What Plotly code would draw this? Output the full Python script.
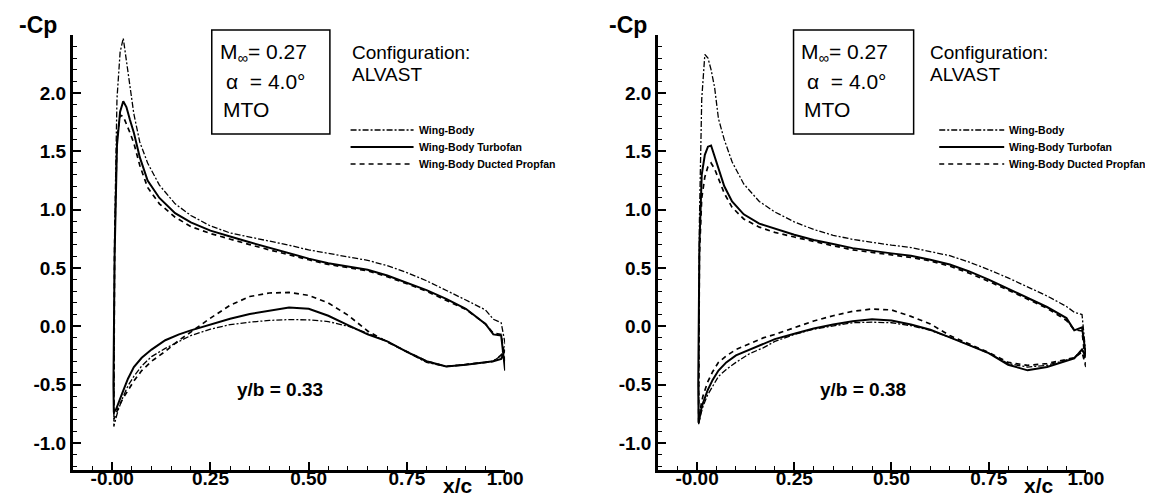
import plotly.graph_objects as go

W, H = 1153, 496

# ---------------- data ----------------
x_upper = [0.003, 0.006, 0.012, 0.02, 0.028, 0.036, 0.045, 0.055, 0.07, 0.09, 0.12, 0.16, 0.2,
           0.25, 0.3, 0.35, 0.4, 0.45, 0.5, 0.55, 0.6, 0.65, 0.7, 0.75, 0.8, 0.85, 0.9, 0.95,
           0.97, 0.99, 1.0]
x_lower = [0.004, 0.01, 0.015, 0.027, 0.04, 0.055, 0.075, 0.1, 0.135, 0.17, 0.2, 0.25, 0.3,
           0.35, 0.4, 0.45, 0.5, 0.55, 0.6, 0.65, 0.7, 0.75, 0.8, 0.85, 0.9, 0.95, 0.97, 0.99, 1.0]

# y/b = 0.33
left_wb_upper = [-0.6, 0.8, 1.95, 2.35, 2.47, 2.28, 2.05, 1.82, 1.58, 1.40, 1.21, 1.05, 0.95,
                 0.86, 0.80, 0.76, 0.73, 0.695, 0.655, 0.62, 0.595, 0.565, 0.52, 0.46, 0.39,
                 0.31, 0.225, 0.14, 0.06, 0.03, -0.15]
left_tf_upper = [-0.5, 0.6, 1.55, 1.84, 1.93, 1.88, 1.77, 1.66, 1.45, 1.25, 1.10, 0.97, 0.89,
                 0.82, 0.77, 0.72, 0.67, 0.625, 0.58, 0.54, 0.515, 0.485, 0.435, 0.375, 0.31,
                 0.235, 0.15, 0.02, -0.07, -0.08, -0.38]
left_dp_upper = [-0.5, 0.7, 1.6, 1.81, 1.80, 1.74, 1.66, 1.57, 1.38, 1.19, 1.05, 0.935, 0.855,
                 0.795, 0.748, 0.70, 0.655, 0.61, 0.57, 0.53, 0.505, 0.475, 0.425, 0.365, 0.30,
                 0.225, 0.145, 0.02, -0.06, -0.07, -0.30]
left_wb_lower = [-0.86, -0.78, -0.72, -0.61, -0.51, -0.43, -0.34, -0.26, -0.19, -0.13, -0.08,
                 -0.025, 0.014, 0.035, 0.05, 0.057, 0.055, 0.04, 0.0, -0.06, -0.13, -0.22, -0.31,
                 -0.345, -0.33, -0.31, -0.30, -0.25, -0.15]
left_tf_lower = [-0.74, -0.71, -0.66, -0.56, -0.45, -0.35, -0.27, -0.2, -0.12, -0.07, -0.035,
                 0.015, 0.065, 0.105, 0.135, 0.16, 0.15, 0.09, 0.01, -0.07, -0.13, -0.22, -0.30,
                 -0.345, -0.33, -0.31, -0.30, -0.28, -0.2]
left_dp_lower = [-0.80, -0.75, -0.70, -0.62, -0.55, -0.47, -0.38, -0.30, -0.215, -0.12, -0.05,
                 0.07, 0.18, 0.255, 0.285, 0.29, 0.265, 0.20, 0.095, -0.04, -0.135, -0.22, -0.30,
                 -0.345, -0.33, -0.31, -0.30, -0.25, -0.22]

# y/b = 0.38
right_wb_upper = [-0.6, 0.9, 1.95, 2.33, 2.30, 2.2, 2.05, 1.78, 1.60, 1.41, 1.22, 1.07, 0.98,
                  0.895, 0.83, 0.78, 0.745, 0.72, 0.695, 0.675, 0.64, 0.605, 0.55, 0.485, 0.415,
                  0.34, 0.26, 0.17, 0.12, 0.10, -0.24]
right_tf_upper = [-0.5, 0.7, 1.3, 1.47, 1.54, 1.55, 1.47, 1.35, 1.20, 1.07, 0.96, 0.88, 0.835,
                  0.785, 0.74, 0.705, 0.67, 0.648, 0.625, 0.605, 0.57, 0.53, 0.47, 0.40, 0.32,
                  0.245, 0.165, 0.07, -0.035, -0.01, -0.25]
right_dp_upper = [-0.5, 0.6, 1.1, 1.28, 1.37, 1.40, 1.35, 1.27, 1.14, 1.02, 0.92, 0.85, 0.805,
                  0.765, 0.725, 0.69, 0.655, 0.63, 0.61, 0.59, 0.56, 0.515, 0.455, 0.385, 0.31,
                  0.235, 0.155, 0.05, -0.03, -0.04, -0.35]
right_wb_lower = [-0.84, -0.75, -0.69, -0.59, -0.51, -0.43, -0.37, -0.31, -0.235, -0.185, -0.13,
                  -0.07, -0.025, 0.005, 0.03, 0.035, 0.03, 0.005, -0.035, -0.095, -0.16, -0.23,
                  -0.32, -0.35, -0.335, -0.29, -0.27, -0.2, -0.25]
right_tf_lower = [-0.83, -0.72, -0.66, -0.55, -0.46, -0.38, -0.31, -0.25, -0.2, -0.155, -0.11,
                  -0.065, -0.02, 0.015, 0.043, 0.06, 0.05, 0.015, -0.03, -0.095, -0.16, -0.23,
                  -0.33, -0.378, -0.35, -0.295, -0.275, -0.2, -0.26]
right_dp_lower = [-0.82, -0.68, -0.60, -0.48, -0.39, -0.31, -0.255, -0.2, -0.15, -0.10, -0.07,
                  -0.015, 0.045, 0.09, 0.128, 0.148, 0.14, 0.085, 0.02, -0.08, -0.15, -0.225,
                  -0.31, -0.335, -0.32, -0.285, -0.27, -0.22, -0.35]

series_names = ["Wing-Body", "Wing-Body Turbofan", "Wing-Body Ducted Propfan"]
x_tick_vals = [0.0, 0.25, 0.5, 0.75, 1.0]
x_tick_text = ["-0.00", "0.25", "0.50", "0.75", "1.00"]
y_tick_vals = [-1.0, -0.5, 0.0, 0.5, 1.0, 1.5, 2.0]
y_tick_text = ["-1.0", "-0.5", "0.0", "0.5", "1.0", "1.5", "2.0"]
panel_labels = ["y/b = 0.33", "y/b = 0.38"]

# ---------------- styling ----------------
FONT = "Liberation Sans, Arial, sans-serif"
styles = [dict(dash="6px,2px,2px,2px", width=1.3),
          dict(dash="solid", width=2.0),
          dict(dash="5px,4px", width=1.7)]

def px_x(p):
    return p / W

def px_y(p):
    return 1 - p / H

panels = [
    dict(xa="x", ya="y", dom=[px_x(66), px_x(505)],
         data=[(left_wb_upper, left_wb_lower), (left_tf_upper, left_tf_lower),
               (left_dp_upper, left_dp_lower)],
         box=(207, 327), cfg=347, leg=(348, 412), cp=30),
    dict(xa="x2", ya="y2", dom=[px_x(660.5), px_x(1095)],
         data=[(right_wb_upper, right_wb_lower), (right_tf_upper, right_tf_lower),
               (right_dp_upper, right_dp_lower)],
         box=(798, 920), cfg=935, leg=(946, 1012), cp=630),
]

fig = go.Figure()

for pi, pnl in enumerate(panels):
    for si, (up, lo) in enumerate(pnl["data"]):
        xs = x_upper[::-1] + x_lower
        ys = up[::-1] + lo
        fig.add_trace(go.Scatter(
            x=xs, y=ys, mode="lines", name=series_names[si], showlegend=False,
            line=dict(color="black", width=styles[si]["width"], dash=styles[si]["dash"]),
            xaxis=pnl["xa"], yaxis=pnl["ya"]))

ydom = [px_y(461.7), px_y(26.7)]

def xaxis_cfg(dom, anchor):
    return dict(domain=dom, anchor=anchor, range=[-0.1, 1.0], showgrid=False, zeroline=False,
                showline=True, linecolor="black", linewidth=3, ticks="inside", ticklen=8,
                tickwidth=2, tickcolor="black", tickmode="array", tickvals=x_tick_vals,
                ticktext=x_tick_text, ticklabelstandoff=-11,
                tickfont=dict(family=FONT, size=19, color="black", weight="bold"),
                minor=dict(tickmode="linear", tick0=0, dtick=0.05, ticks="inside", ticklen=4,
                           tickwidth=1.3, tickcolor="black", showgrid=False))

def yaxis_cfg(anchor):
    return dict(domain=ydom, anchor=anchor, range=[-1.23, 2.5], showgrid=False, zeroline=False,
                showline=True, linecolor="black", linewidth=3, ticks="inside", ticklen=8,
                tickwidth=2, tickcolor="black", tickmode="array", tickvals=y_tick_vals,
                ticktext=y_tick_text,
                tickfont=dict(family=FONT, size=19, color="black", weight="bold"),
                minor=dict(tickmode="linear", tick0=0, dtick=0.1, ticks="inside", ticklen=4,
                           tickwidth=1.3, tickcolor="black", showgrid=False))

fig.update_layout(
    width=W, height=H, margin=dict(l=0, r=0, t=0, b=0),
    paper_bgcolor="white", plot_bgcolor="white", showlegend=False,
    xaxis=xaxis_cfg(panels[0]["dom"], "y"), yaxis=yaxis_cfg("x"),
    xaxis2=xaxis_cfg(panels[1]["dom"], "y2"), yaxis2=yaxis_cfg("x2"),
)

shapes = []
annotations = []
for pi, pnl in enumerate(panels):
    bx0, bx1 = pnl["box"]
    shapes.append(dict(type="rect", xref="paper", yref="paper", x0=px_x(bx0), x1=px_x(bx1),
                       y0=px_y(126), y1=px_y(22), line=dict(color="black", width=1.5)))
    box_lines = [("M<sub>∞</sub>= 0.27", bx0 + 6, 45), ("α  = 4.0°", bx0 + 12, 73),
                 ("MTO", bx0 + 9, 101)]
    for txt, xx, yy in box_lines:
        annotations.append(dict(text=txt, xref="paper", yref="paper", x=px_x(xx), y=px_y(yy),
                                xanchor="left", yanchor="middle", showarrow=False,
                                font=dict(family=FONT, size=21, color="black")))
    for txt, yy in [("Configuration:", 45), ("ALVAST", 67)]:
        annotations.append(dict(text=txt, xref="paper", yref="paper",
                                x=px_x(pnl["cfg"]), y=px_y(yy), xanchor="left",
                                yanchor="middle", align="left", showarrow=False,
                                font=dict(family=FONT, size=19, color="black")))
    lx0, lx1 = pnl["leg"]
    for si, ry in enumerate([122, 139, 156]):
        shapes.append(dict(type="line", xref="paper", yref="paper", x0=px_x(lx0), x1=px_x(lx1),
                           y0=px_y(ry), y1=px_y(ry),
                           line=dict(color="black", width=styles[si]["width"],
                                     dash=styles[si]["dash"])))
        annotations.append(dict(text=series_names[si], xref="paper", yref="paper",
                                x=px_x(lx1 + 3), y=px_y(ry), xanchor="left", yanchor="middle",
                                showarrow=False,
                                font=dict(family=FONT, size=10.5, color="black",
                                          weight="bold")))
    annotations.append(dict(text="-Cp", xref="paper", yref="paper", x=px_x(pnl["cp"]),
                            y=px_y(17), xanchor="center", yanchor="middle", showarrow=False,
                            font=dict(family=FONT, size=23, color="black", weight="bold")))
    annotations.append(dict(text="x/c", xref=pnl["xa"], yref="paper", x=0.879, y=px_y(477),
                            xanchor="center", yanchor="middle", showarrow=False,
                            font=dict(family=FONT, size=21, color="black", weight="bold")))
    annotations.append(dict(text=panel_labels[pi], xref=pnl["xa"], yref=pnl["ya"], x=0.428,
                            y=-0.545, xanchor="center", yanchor="middle", showarrow=False,
                            font=dict(family=FONT, size=19, color="black", weight="bold")))

fig.update_layout(shapes=shapes, annotations=annotations)
fig.write_html("out.html")
